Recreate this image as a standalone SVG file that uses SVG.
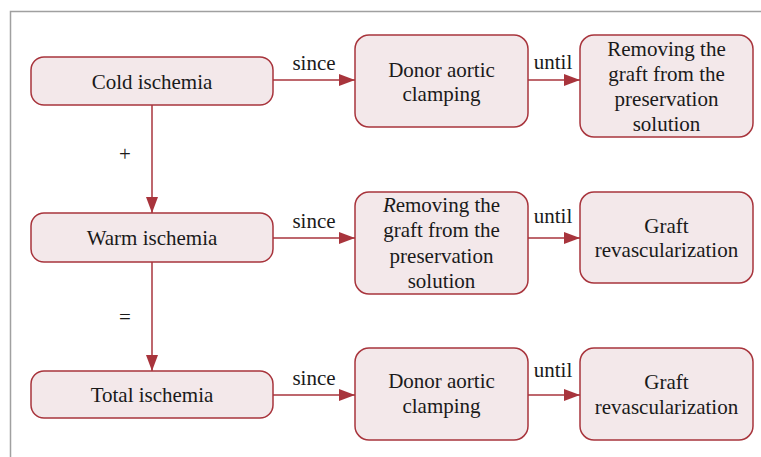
<svg xmlns="http://www.w3.org/2000/svg" width="761" height="457" viewBox="0 0 761 457">
<style>
.box{fill:#f3e8ea;stroke:#a8343c;stroke-width:1.5}
.t{font-family:"Liberation Serif",serif;font-size:21px;fill:#1a1a1a;text-anchor:middle}
.c{stroke:#a8343c;stroke-width:1.5;fill:none}
</style>
<defs>
<marker id="ah" markerWidth="16" markerHeight="12" refX="16" refY="6" orient="auto" markerUnits="userSpaceOnUse">
<path d="M0,0 L16,6 L0,12 Z" fill="#a8343c"/>
</marker>
</defs>
<rect width="761" height="457" fill="#ffffff"/>
<g id="frame">
<path d="M10.5,457 V11.5 H761" fill="none" stroke="#a0a0a0" stroke-width="1.5"/>
</g>
<g id="connectors">
<line class="c" x1="273" y1="80" x2="355" y2="80" marker-end="url(#ah)"/>
<line class="c" x1="528" y1="80" x2="580" y2="80" marker-end="url(#ah)"/>
<line class="c" x1="273" y1="238" x2="355" y2="238" marker-end="url(#ah)"/>
<line class="c" x1="528" y1="238" x2="580" y2="238" marker-end="url(#ah)"/>
<line class="c" x1="273" y1="395" x2="355" y2="395" marker-end="url(#ah)"/>
<line class="c" x1="528" y1="395" x2="580" y2="395" marker-end="url(#ah)"/>
<line class="c" x1="152" y1="105" x2="152" y2="213" marker-end="url(#ah)"/>
<line class="c" x1="152" y1="262" x2="152" y2="371" marker-end="url(#ah)"/>
<text class="t" x="314" y="70">since</text>
<text class="t" x="553" y="69">until</text>
<text class="t" x="314" y="228">since</text>
<text class="t" x="553" y="223">until</text>
<text class="t" x="314" y="385">since</text>
<text class="t" x="553" y="377">until</text>
<text class="t" x="125" y="161">+</text>
<text class="t" x="125" y="324">=</text>
</g>
<g id="cold">
<rect class="box" x="31" y="57" width="242" height="48" rx="13"/>
<text class="t" x="152" y="89">Cold ischemia</text>
</g>
<g id="donor1">
<rect class="box" x="355" y="35" width="173" height="92" rx="14"/>
<text class="t" x="441.5" y="77">Donor aortic</text>
<text class="t" x="441.5" y="101">clamping</text>
</g>
<g id="removing1">
<rect class="box" x="580" y="35" width="173" height="102" rx="14"/>
<text class="t" x="666.5" y="56">Removing the</text>
<text class="t" x="666.5" y="81">graft from the</text>
<text class="t" x="666.5" y="106">preservation</text>
<text class="t" x="666.5" y="131">solution</text>
</g>
<g id="warm">
<rect class="box" x="31" y="213" width="242" height="49" rx="13"/>
<text class="t" x="152" y="245">Warm ischemia</text>
</g>
<g id="removing2">
<rect class="box" x="355" y="192" width="173" height="102" rx="14"/>
<text class="t" x="441.5" y="212"><tspan font-style="italic">R</tspan>emoving the</text>
<text class="t" x="441.5" y="237">graft from the</text>
<text class="t" x="441.5" y="263">preservation</text>
<text class="t" x="441.5" y="288">solution</text>
</g>
<g id="graft2">
<rect class="box" x="580" y="192" width="173" height="91" rx="14"/>
<text class="t" x="666.5" y="233">Graft</text>
<text class="t" x="666.5" y="257">revascularization</text>
</g>
<g id="total">
<rect class="box" x="31" y="371" width="242" height="47" rx="13"/>
<text class="t" x="152" y="402">Total ischemia</text>
</g>
<g id="donor3">
<rect class="box" x="355" y="348" width="173" height="92" rx="14"/>
<text class="t" x="441.5" y="388">Donor aortic</text>
<text class="t" x="441.5" y="413">clamping</text>
</g>
<g id="graft3">
<rect class="box" x="580" y="348" width="173" height="92" rx="14"/>
<text class="t" x="666.5" y="389">Graft</text>
<text class="t" x="666.5" y="414">revascularization</text>
</g>
</svg>
